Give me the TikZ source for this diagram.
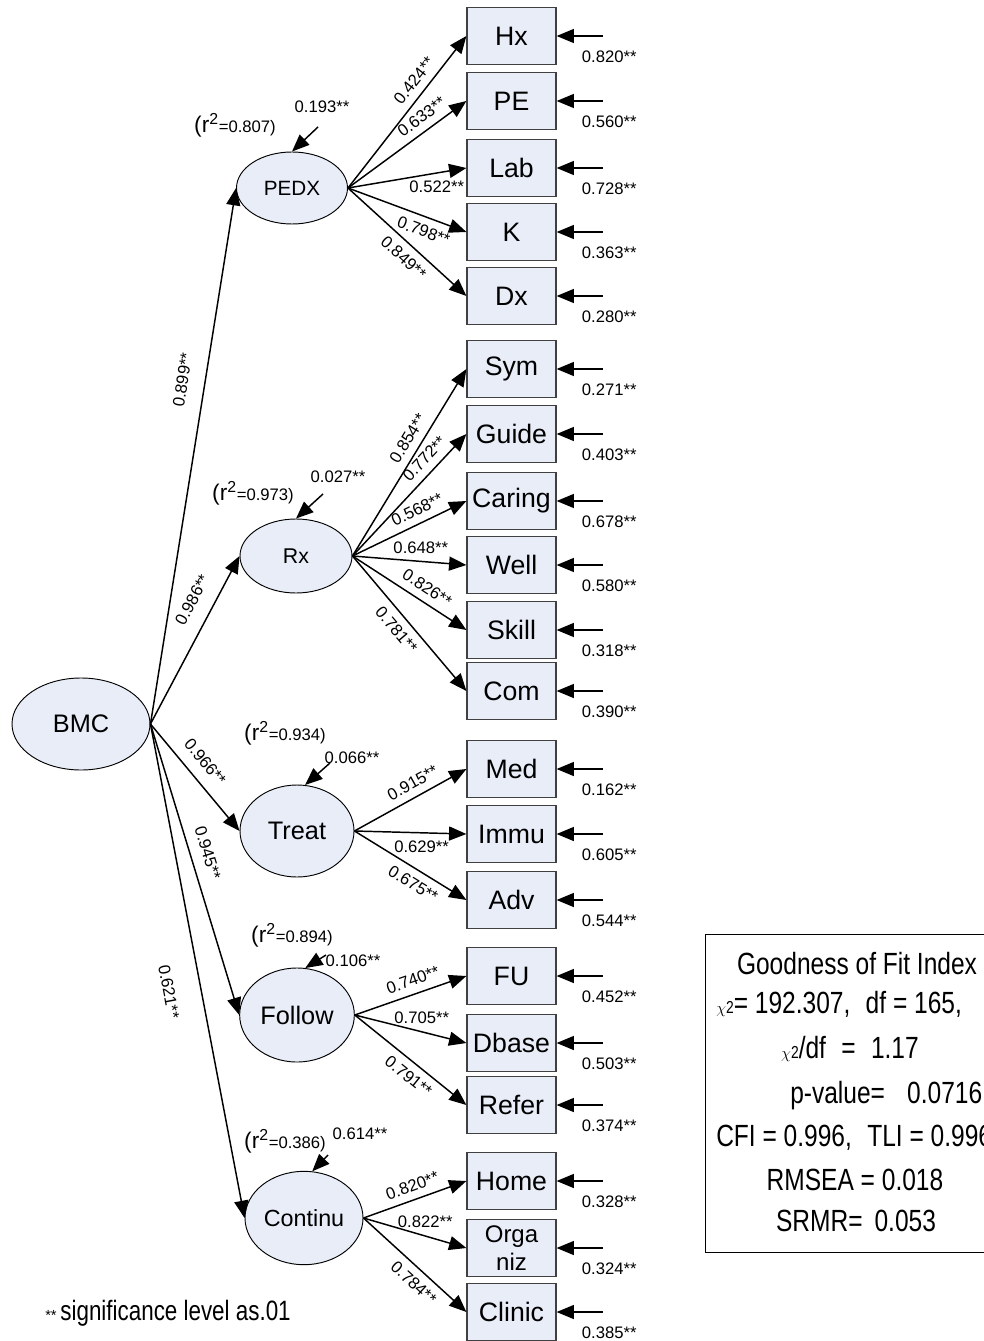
\documentclass[tikz,border=0pt]{standalone}
\usepackage{fontspec}
\setmainfont{Liberation Sans}
\newfontfamily\condfont[FakeStretch=0.8]{Liberation Sans}
\usetikzlibrary{shapes,arrows.meta,positioning}
\definecolor{latentcolor}{RGB}{232,237,248}
\definecolor{framecolor}{RGB}{64,64,64}

\begin{document}
\begin{tikzpicture}[
    x=0.75pt, y=-0.75pt,
    latent/.style={ellipse, draw, fill=latentcolor, inner sep=0pt, line width=0.7pt},
    indicator/.style={rectangle, draw=framecolor, fill=latentcolor, minimum width=66.75pt, minimum height=42.75pt, inner sep=0pt, font=\fontsize{20}{22}\selectfont, line width=0.9pt},
    arrow/.style={-{Triangle[length=13pt,width=10.5pt]}, line width=1.1pt},
    coef/.style={font=\fontsize{12.5}{13}\selectfont, inner sep=5.5pt},
    pathcoef/.style={coef, inner sep=11pt},
    errcoef/.style={font=\fontsize{12.5}{13}\selectfont, inner sep=1pt, xshift=5pt, yshift=-15.75pt},
    rsq/.style={font=\fontsize{12.5}{13}\selectfont, inner sep=1pt},
    fitline/.style={font=\condfont\fontsize{23}{25}\selectfont, inner sep=0pt}
]
\useasboundingbox (0,0) rectangle (984,1341);

% Latent Variables
\node[latent, minimum width=103.5pt, minimum height=69pt, font=\fontsize{19}{21}\selectfont] (BMC) at (81,724) {BMC};
\node[latent, minimum width=83.25pt, minimum height=54pt, font=\fontsize{15.5}{17}\selectfont] (PEDX) at (292,188) {PEDX};
\node[latent, minimum width=84pt, minimum height=55.5pt, font=\fontsize{16}{18}\selectfont] (Rx) at (296,556) {Rx};
\node[latent, minimum width=85.5pt, minimum height=69pt, font=\fontsize{19}{21}\selectfont] (Treat) at (297,831) {Treat};
\node[latent, minimum width=86pt, minimum height=70.5pt, font=\fontsize{19}{21}\selectfont] (Follow) at (297,1015) {Follow};
\node[latent, minimum width=88.5pt, minimum height=70pt, font=\fontsize{17.5}{19}\selectfont] (Continu) at (304,1218) {Continu};

% Observed Indicators
\node[indicator] (Hx) at (511.5,36) {Hx};
\node[indicator] (PE) at (511.5,101) {PE};
\node[indicator] (Lab) at (511.5,168) {Lab};
\node[indicator] (K) at (511.5,232) {K};
\node[indicator] (Dx) at (511.5,296) {Dx};
\node[indicator] (Sym) at (511.5,369) {Sym};
\node[indicator] (Guide) at (511.5,434) {Guide};
\node[indicator] (Caring) at (511.5,501) {Caring};
\node[indicator] (Well) at (511.5,565) {Well};
\node[indicator] (Skill) at (511.5,630) {Skill};
\node[indicator] (Com) at (511.5,691) {Com};
\node[indicator] (Med) at (511.5,769) {Med};
\node[indicator] (Immu) at (511.5,834) {Immu};
\node[indicator] (Adv) at (511.5,900) {Adv};
\node[indicator] (FU) at (511.5,976) {FU};
\node[indicator] (Dbase) at (511.5,1043) {Dbase};
\node[indicator] (Refer) at (511.5,1105) {Refer};
\node[indicator] (Home) at (511.5,1181) {Home};
\node[indicator, align=center, font=\fontsize{18}{21}\selectfont] (Organiz) at (511.5,1248) {Orga\\niz};
\node[indicator] (Clinic) at (511.5,1312) {Clinic};

% Second-order Paths
\draw[arrow] (BMC.east) -- (PEDX.west) node[pathcoef, sloped, above, pos=0.635, inner sep=12pt] {0.899**};
\draw[arrow] (BMC.east) -- (Rx.west) node[pathcoef, sloped, above, pos=0.68] {0.986**};
\draw[arrow] (BMC.east) -- (Treat.west) node[pathcoef, sloped, above, pos=0.46, inner sep=8.5pt] {0.966**};
\draw[arrow] (BMC.east) -- (Follow.west) node[pathcoef, sloped, above, pos=0.46, inner sep=8pt] {0.945**};
\draw[arrow] (BMC.east) -- (Continu.west) node[pathcoef, sloped, below, pos=0.53, inner sep=19pt] {0.621**};

% Loadings PEDX
\draw[arrow] (PEDX.east) -- (Hx.west) node[coef, sloped, above, pos=0.65] {0.424**};
\draw[arrow] (PEDX.east) -- (PE.west) node[coef, sloped, above, pos=0.69] {0.633**};
\draw[arrow] (PEDX.east) -- (Lab.west) node[coef, below, pos=0.75] {0.522**};
\draw[arrow] (PEDX.east) -- (K.west) node[coef, sloped, below, pos=0.68] {0.798**};
\draw[arrow] (PEDX.east) -- (Dx.west) node[coef, sloped, below, pos=0.55] {0.849**};

% Loadings Rx
\draw[arrow] (Rx.east) -- (Sym.west) node[coef, sloped, above, pos=0.59] {0.854**};
\draw[arrow] (Rx.east) -- (Guide.west) node[coef, sloped, above, pos=0.72] {0.772**};
\draw[arrow] (Rx.east) -- (Caring.west) node[coef, sloped, above, pos=0.62] {0.568**};
\draw[arrow] (Rx.east) -- (Well.west) node[coef, above, pos=0.6] {0.648**};
\draw[arrow] (Rx.east) -- (Skill.west) node[coef, sloped, above, pos=0.59] {0.826**};
\draw[arrow] (Rx.east) -- (Com.west) node[coef, sloped, below, pos=0.48] {0.781**};

% Loadings Treat
\draw[arrow] (Treat.east) -- (Med.west) node[coef, sloped, above, pos=0.58] {0.915**};
\draw[arrow] (Treat.east) -- (Immu.west) node[coef, below, pos=0.6] {0.629**};
\draw[arrow] (Treat.east) -- (Adv.west) node[coef, sloped, below, pos=0.59] {0.675**};

% Loadings Follow
\draw[arrow] (Follow.east) -- (FU.west) node[coef, sloped, above, pos=0.56] {0.740**};
\draw[arrow] (Follow.east) -- (Dbase.west) node[coef, above, pos=0.6] {0.705**};
\draw[arrow] (Follow.east) -- (Refer.west) node[coef, sloped, below, pos=0.56] {0.791**};

% Loadings Continu
\draw[arrow] (Continu.east) -- (Home.west) node[coef, sloped, above, pos=0.52] {0.820**};
\draw[arrow] (Continu.east) -- (Organiz.west) node[coef, above, pos=0.6] {0.822**};
\draw[arrow] (Continu.east) -- (Clinic.west) node[coef, sloped, below, pos=0.58] {0.784**};

% Disturbances
\coordinate (dPEDX) at (318,127);
\coordinate (dRx) at (323,494);
\coordinate (dTreat) at (330,763);
\coordinate (dFollow) at (326,955);
\coordinate (dContinu) at (328,1155);
\draw[arrow] (dPEDX) -- (PEDX.north);
\draw[arrow] (dRx) -- (Rx.north);
\draw[arrow] (dTreat) -- (Treat.80);
\draw[arrow] (dFollow) -- (Follow.80);
\draw[arrow] (dContinu) -- (Continu.80);
\node[rsq] (uPEDX) at (322,107) {0.193**};
\node[rsq] (uRx) at (338,477) {0.027**};
\node[rsq] (uTreat) at (352,758) {0.066**};
\node[rsq] (uFollow) at (353,961) {0.106**};
\node[rsq] (uContinu) at (360,1134) {0.614**};
\node[rsq] (rPEDX) at (235,125) {{\fontsize{17}{18}\selectfont(r\textsuperscript{2}}=0.807)};
\node[rsq] (rRx) at (253,493) {{\fontsize{17}{18}\selectfont(r\textsuperscript{2}}=0.973)};
\node[rsq] (rTreat) at (285,733) {{\fontsize{17}{18}\selectfont(r\textsuperscript{2}}=0.934)};
\node[rsq] (rFollow) at (292,935) {{\fontsize{17}{18}\selectfont(r\textsuperscript{2}}=0.894)};
\node[rsq] (rContinu) at (285,1141) {{\fontsize{17}{18}\selectfont(r\textsuperscript{2}}=0.386)};

% Measurement Errors
\coordinate[right=34.5pt of Hx] (eHx);
\coordinate[right=34.5pt of PE] (ePE);
\coordinate[right=34.5pt of Lab] (eLab);
\coordinate[right=34.5pt of K] (eK);
\coordinate[right=34.5pt of Dx] (eDx);
\coordinate[right=34.5pt of Sym] (eSym);
\coordinate[right=34.5pt of Guide] (eGuide);
\coordinate[right=34.5pt of Caring] (eCaring);
\coordinate[right=34.5pt of Well] (eWell);
\coordinate[right=34.5pt of Skill] (eSkill);
\coordinate[right=34.5pt of Com] (eCom);
\coordinate[right=34.5pt of Med] (eMed);
\coordinate[right=34.5pt of Immu] (eImmu);
\coordinate[right=34.5pt of Adv] (eAdv);
\coordinate[right=34.5pt of FU] (eFU);
\coordinate[right=34.5pt of Dbase] (eDbase);
\coordinate[right=34.5pt of Refer] (eRefer);
\coordinate[right=34.5pt of Home] (eHome);
\coordinate[right=34.5pt of Organiz] (eOrganiz);
\coordinate[right=34.5pt of Clinic] (eClinic);
\draw[arrow] (eHx) node[errcoef] {0.820**} -- (Hx);
\draw[arrow] (ePE) node[errcoef] {0.560**} -- (PE);
\draw[arrow] (eLab) node[errcoef] {0.728**} -- (Lab);
\draw[arrow] (eK) node[errcoef] {0.363**} -- (K);
\draw[arrow] (eDx) node[errcoef] {0.280**} -- (Dx);
\draw[arrow] (eSym) node[errcoef] {0.271**} -- (Sym);
\draw[arrow] (eGuide) node[errcoef] {0.403**} -- (Guide);
\draw[arrow] (eCaring) node[errcoef] {0.678**} -- (Caring);
\draw[arrow] (eWell) node[errcoef] {0.580**} -- (Well);
\draw[arrow] (eSkill) node[errcoef] {0.318**} -- (Skill);
\draw[arrow] (eCom) node[errcoef] {0.390**} -- (Com);
\draw[arrow] (eMed) node[errcoef] {0.162**} -- (Med);
\draw[arrow] (eImmu) node[errcoef] {0.605**} -- (Immu);
\draw[arrow] (eAdv) node[errcoef] {0.544**} -- (Adv);
\draw[arrow] (eFU) node[errcoef] {0.452**} -- (FU);
\draw[arrow] (eDbase) node[errcoef] {0.503**} -- (Dbase);
\draw[arrow] (eRefer) node[errcoef] {0.374**} -- (Refer);
\draw[arrow] (eHome) node[errcoef] {0.328**} -- (Home);
\draw[arrow] (eOrganiz) node[errcoef] {0.324**} -- (Organiz);
\draw[arrow] (eClinic) node[errcoef] {0.385**} -- (Clinic);

% Fit Indices
\node[draw, line width=0.75pt, minimum width=221.25pt, minimum height=238.5pt, inner sep=0pt] (fitbox) at (852.5,1093.5) {};
\node[fitline] (fit1) at (857,964) {Goodness of Fit Index};
\node[fitline, anchor=west] (fit2) at (716,1004) {{\fontsize{13}{13}\selectfont$\chi$2}= 192.307,\enspace df = 165,};
\node[fitline] (fit3) at (850,1049) {{\fontsize{13}{13}\selectfont$\chi$2}/df\enspace =\enspace 1.17};
\node[fitline, anchor=west] (fit4) at (790,1096) {p-value= \enspace 0.0716};
\node[fitline, anchor=west] (fit5) at (716,1138) {CFI = 0.996,\enspace TLI = 0.996};
\node[fitline] (fit6) at (855,1180) {RMSEA = 0.018};
\node[fitline] (fit7) at (856,1221) {SRMR= \,0.053};

% Note
\node[anchor=west, inner sep=0pt] (note) at (45,1313) {{\fontsize{11}{12}\selectfont **} {\condfont\fontsize{21}{23}\selectfont significance level as.01}};

\end{tikzpicture}
\end{document}
